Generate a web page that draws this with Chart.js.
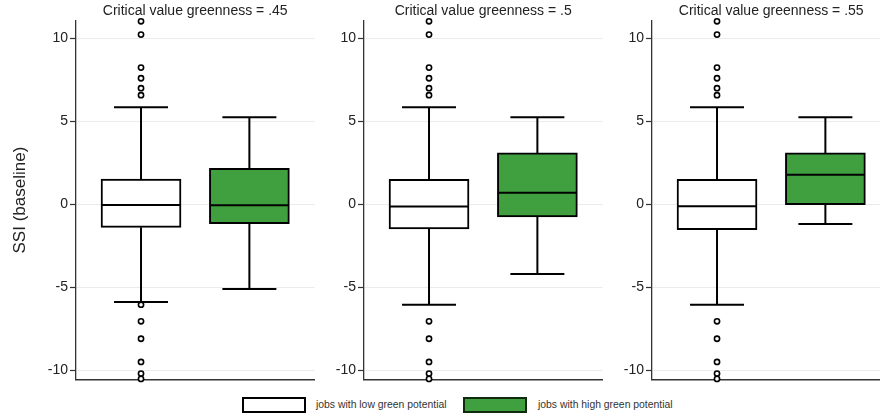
<!DOCTYPE html>
<html>
<head>
<meta charset="utf-8">
<script src="https://cdn.jsdelivr.net/npm/chart.js@4.4.1/dist/chart.umd.min.js"></script>
<style>
  html, body { margin: 0; padding: 0; background: #fff; }
  body { width: 880px; height: 419px; position: relative; overflow: hidden; font-family: "Liberation Sans", Arial, sans-serif; }
  canvas { position: absolute; top: 0; }
  .lg-box { position: absolute; top: 397px; width: 64px; height: 16px; box-sizing: border-box; border: 2px solid #000; }
  .lg-txt { position: absolute; top: 398px; font-size: 10.4px; line-height: 14px; color: #333; white-space: nowrap; }
</style>
</head>
<body>
<canvas id="c0" width="320" height="390" style="left:0px"></canvas>
<canvas id="c1" width="320" height="390" style="left:288px"></canvas>
<canvas id="c2" width="320" height="390" style="left:576px"></canvas>

<div class="lg-box" style="left:242px;background:#fff"></div>
<div class="lg-txt" id="lg0" style="left:316px"></div>
<div class="lg-box" style="left:463px;background:#40a040;border-color:#0f2a0f"></div>
<div class="lg-txt" id="lg1" style="left:538px"></div>

<script>
// groups and panels
const groups = ['jobs with low green potential', 'jobs with high green potential'];
const panelTitles = ['Critical value greenness = .45', 'Critical value greenness = .5', 'Critical value greenness = .55'];
const yTicks = [-10, -5, 0, 5, 10];

// box stats per panel (low green potential)
const lowMin = [-5.89, -6.05, -6.05];
const lowQ1  = [-1.39, -1.49, -1.53];
const lowMed = [-0.04, -0.14, -0.12];
const lowQ3  = [1.52, 1.50, 1.50];
const lowMax = [5.84, 5.84, 5.84];
const lowOutliers = [
  [11.02, 10.22, 8.23, 7.59, 6.99, 6.57, -6.05, -7.05, -8.10, -9.50, -10.20, -10.52],
  [11.02, 10.22, 8.23, 7.59, 6.99, 6.57, -7.05, -8.10, -9.50, -10.20, -10.52],
  [11.02, 10.22, 8.23, 7.59, 6.99, 6.57, -7.05, -8.10, -9.50, -10.20, -10.52]
];

// box stats per panel (high green potential)
const highMin = [-5.10, -4.20, -1.19];
const highQ1  = [-1.17, -0.77, -0.02];
const highMed = [-0.06, 0.70, 1.77];
const highQ3  = [2.17, 3.09, 3.09];
const highMax = [5.24, 5.24, 5.24];
const highOutliers = [[], [], []];

const green = '#40a040';
const FONT = '"Liberation Sans", Arial, sans-serif';

document.getElementById('lg0').textContent = groups[0];
document.getElementById('lg1').textContent = groups[1];

// whiskers, caps and medians drawn through the chart scales
const boxParts = {
  id: 'boxParts',
  beforeDatasetsDraw(chart) {
    const p = chart.options.plugins.boxParts.panel;
    const x = chart.scales.x, y = chart.scales.y, ctx = chart.ctx;
    const stats = [
      [1, lowMin[p], lowQ1[p], lowQ3[p], lowMax[p]],
      [2, highMin[p], highQ1[p], highQ3[p], highMax[p]]
    ];
    ctx.save();
    ctx.strokeStyle = '#000';
    ctx.lineWidth = 2;
    stats.forEach(([g, mn, q1, q3, mx]) => {
      const px = x.getPixelForValue(g);
      ctx.beginPath();
      ctx.moveTo(px, y.getPixelForValue(q3));
      ctx.lineTo(px, y.getPixelForValue(mx));
      ctx.moveTo(px, y.getPixelForValue(q1));
      ctx.lineTo(px, y.getPixelForValue(mn));
      ctx.moveTo(px - 27, y.getPixelForValue(mx));
      ctx.lineTo(px + 27, y.getPixelForValue(mx));
      ctx.moveTo(px - 27, y.getPixelForValue(mn));
      ctx.lineTo(px + 27, y.getPixelForValue(mn));
      ctx.stroke();
    });
    ctx.restore();
  },
  afterDatasetDraw(chart, args) {
    if (args.meta.type !== 'bar') return;
    const p = chart.options.plugins.boxParts.panel;
    const x = chart.scales.x, y = chart.scales.y, ctx = chart.ctx;
    ctx.save();
    ctx.strokeStyle = '#000';
    ctx.lineWidth = 2;
    [[1, lowMed[p]], [2, highMed[p]]].forEach(([g, m]) => {
      const px = x.getPixelForValue(g), py = y.getPixelForValue(m);
      ctx.beginPath();
      ctx.moveTo(px - 39, py);
      ctx.lineTo(px + 39, py);
      ctx.stroke();
    });
    ctx.restore();
  }
};

function makePanel(p) {
  const pts = lowOutliers[p].map(v => ({ x: 1, y: v }))
    .concat(highOutliers[p].map(v => ({ x: 2, y: v })));
  new Chart(document.getElementById('c' + p), {
    type: 'bar',
    data: {
      datasets: [
        {
          type: 'bar',
          order: 1,
          data: [
            { x: 1, y: [lowQ1[p], lowQ3[p]] },
            { x: 2, y: [highQ1[p], highQ3[p]] }
          ],
          backgroundColor: ['#ffffff', green],
          borderColor: '#000',
          borderWidth: 2,
          borderSkipped: false,
          barThickness: 80
        },
        {
          type: 'scatter',
          order: 0,
          data: pts,
          pointRadius: 2.6,
          pointBorderWidth: 1.6,
          pointBackgroundColor: '#fff',
          pointBorderColor: '#000',
          clip: false
        }
      ]
    },
    options: {
      responsive: false,
      animation: false,
      devicePixelRatio: 1,
      layout: { padding: { left: 0, right: 0, top: 0, bottom: 10.6 } },
      plugins: {
        legend: { display: false },
        tooltip: { enabled: false },
        boxParts: { panel: p },
        title: {
          display: true,
          text: panelTitles[p],
          fullSize: false,
          color: '#222',
          font: { family: FONT, size: 14, weight: 'normal' },
          padding: { top: 3, bottom: 1 }
        }
      },
      scales: {
        x: {
          type: 'linear',
          offset: false,
          min: 0.4,
          max: 2.6,
          ticks: { display: false },
          grid: { display: false },
          border: { display: true, color: '#333', width: 1.5 },
          afterFit: s => { s.height = 0; }
        },
        y: {
          type: 'linear',
          min: -10.55,
          max: 11.05,
          afterBuildTicks: s => { s.ticks = yTicks.map(v => ({ value: v })); },
          afterFit: s => { s.width = 76; },
          ticks: {
            color: '#222',
            padding: 2,
            font: { family: FONT, size: 14 },
            callback: v => String(v)
          },
          grid: { color: '#ebebeb', lineWidth: 1, tickLength: 6, tickColor: '#333', tickWidth: 1.2 },
          border: { display: true, color: '#333', width: 1.3 },
          title: {
            display: p === 0,
            text: 'SSI (baseline)',
            color: '#222',
            font: { family: FONT, size: 17 },
            padding: { top: 10, bottom: 0 }
          }
        }
      }
    },
    plugins: [boxParts]
  });
}

[0, 1, 2].forEach(makePanel);
</script>
</body>
</html>
